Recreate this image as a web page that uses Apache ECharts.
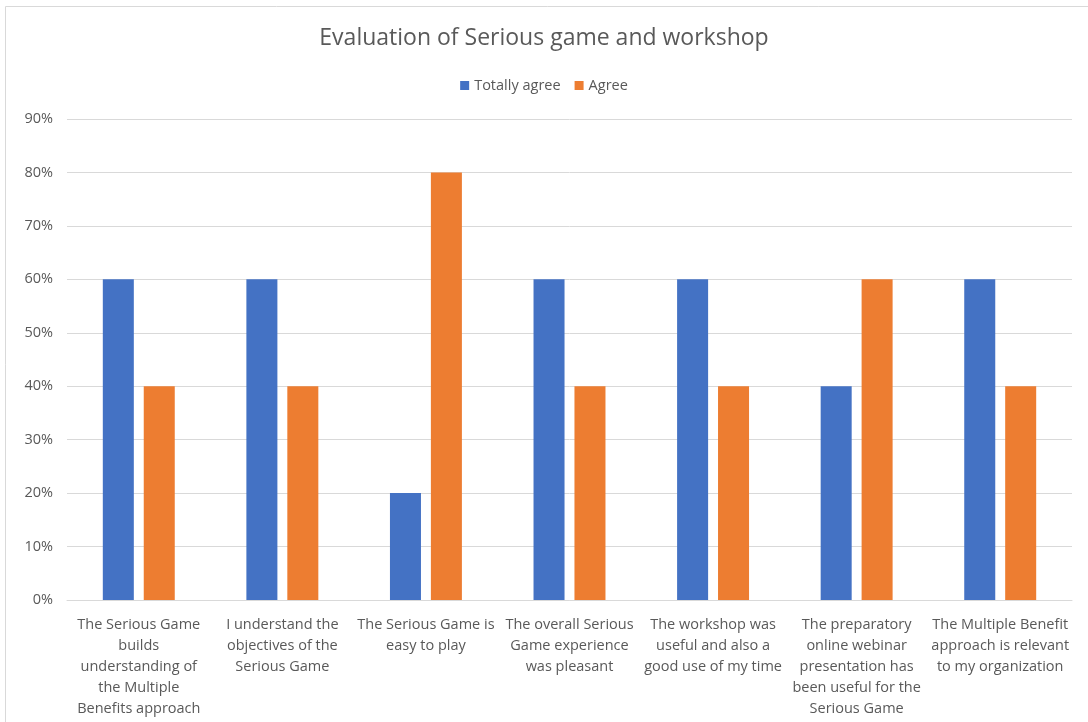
<!DOCTYPE html>
<html>
<head>
<meta charset="utf-8">
<script src="https://cdn.jsdelivr.net/npm/echarts@6/dist/echarts.min.js"></script>
<style>
html,body{margin:0;padding:0;background:#fff;}
#chart{width:1088px;height:722px;}
</style>
</head>
<body>
<div id="chart"></div>
<script>
const categories = [
  "The Serious Game\nbuilds\nunderstanding of\nthe Multiple\nBenefits approach",
  "I understand the\nobjectives of the\nSerious Game",
  "The Serious Game is\neasy to play",
  "The overall Serious\nGame experience\nwas pleasant",
  "The workshop was\nuseful and also a\ngood use of my time",
  "The preparatory\nonline webinar\npresentation has\nbeen useful for the\nSerious Game",
  "The Multiple Benefit\napproach is relevant\nto my organization"
];
const totallyAgree = [0.6, 0.6, 0.2, 0.6, 0.6, 0.4, 0.6];
const agree = [0.4, 0.4, 0.8, 0.4, 0.4, 0.6, 0.4];
const seriesNames = ["Totally agree", "Agree"];

const FONT = "'Open Sans', Lato, 'Liberation Sans', sans-serif";
const chart = echarts.init(document.getElementById('chart'));
chart.setOption({
  animation: false,
  textStyle: { fontFamily: FONT },
  graphic: [{
    type: 'rect', silent: true, z: -1,
    shape: { x: 5.5, y: 6.5, width: 1200, height: 900 },
    style: { fill: 'none', stroke: '#d9d9d9', lineWidth: 1 }
  }],
  title: {
    text: 'Evaluation of Serious game and workshop',
    left: 'center', top: 22,
    textStyle: { fontFamily: FONT, fontSize: 23, fontWeight: 'normal', color: '#595959' }
  },
  legend: {
    top: 73, left: 'center',
    itemWidth: 9, itemHeight: 9, itemGap: 14,
    icon: 'rect',
    textStyle: { fontFamily: FONT, fontSize: 14.5, color: '#595959' },
    data: seriesNames
  },
  grid: { left: 67, right: 16, top: 119, bottom: 122, containLabel: false },
  xAxis: {
    type: 'category',
    data: categories,
    axisLine: { lineStyle: { color: '#d9d9d9', width: 1 } },
    axisTick: { show: false },
    axisLabel: {
      interval: 0, color: '#595959', fontSize: 14.5, fontFamily: FONT,
      lineHeight: 21, margin: 14
    }
  },
  yAxis: {
    type: 'value', min: 0, max: 0.9, interval: 0.1,
    axisLine: { show: false }, axisTick: { show: false },
    splitLine: { lineStyle: { color: '#d9d9d9', width: 1 } },
    axisLabel: {
      color: '#595959', fontSize: 14.5, fontFamily: FONT, margin: 14,
      formatter: v => Math.round(v * 100) + '%'
    }
  },
  series: [
    { name: seriesNames[0], type: 'bar', data: totallyAgree, barWidth: '21.6%', barGap: '32%',
      itemStyle: { color: '#4472C4' } },
    { name: seriesNames[1], type: 'bar', data: agree, barWidth: '21.6%', barGap: '32%',
      itemStyle: { color: '#ED7D31' } }
  ]
});
</script>
</body>
</html>
